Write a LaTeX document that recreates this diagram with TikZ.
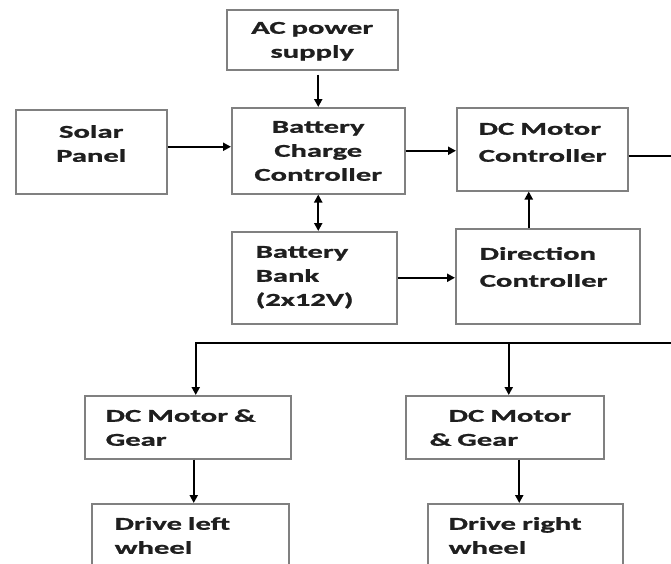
\documentclass[tikz,border=0pt]{standalone}
\usepackage{fontspec}
\newfontfamily\blkfont{Carlito}[FakeStretch=1.7,BoldFeatures={FakeStretch=1.7,FakeBold=1.2}]
\usetikzlibrary{arrows.meta}
\definecolor{boxline}{gray}{0.5}
\definecolor{inkcol}{gray}{0.12}
\tikzset{
  blk/.style={draw=boxline,line width=1.5pt,rectangle,anchor=north west,inner ysep=0pt,
    font=\blkfont\bfseries\fontsize{18}{24}\selectfont,text=inkcol,
    execute at begin node={\hyphenpenalty=10000\relax}},
  blkl/.style={blk,align=left},
  blkc/.style={blk,align=center},
  flow/.style={line width=2.2pt,-{Triangle[length=8pt,width=8pt]}},
  both/.style={line width=2.2pt,{Triangle[length=8pt,width=8pt]}-{Triangle[length=8pt,width=8pt]}},
  link/.style={line width=2.2pt},
}

\begin{document}
\begin{tikzpicture}[x=1pt,y=-1pt]
  \useasboundingbox (0,0) rectangle (671,563);
  \clip (0,0) rectangle (671,563);
  \fill[white] (0,0) rectangle (671,563);
  \node[blkc,inner xsep=8pt,text width=155pt,text height=24pt,text depth=36pt] (ac) at (226,9) {AC power\\supply};
  \node[blkc,inner xsep=8pt,text width=135pt,text height=28pt,text depth=56pt] (solar) at (15,109) {Solar\\Panel};
  \node[blkc,inner xsep=8pt,text width=157pt,text height=25pt,text depth=61pt] (bcc) at (231,107) {Battery\\Charge\\Controller};
  \node[blkl,inner xsep=22pt,text width=127pt,text height=27pt,text depth=56pt] (dcmc) at (456,107) {DC Motor\\[3pt]Controller};
  \node[blkl,inner xsep=24pt,text width=117pt,text height=26pt,text depth=66pt] (bank) at (231,231) {Battery\\Bank\\(2x12V)};
  \node[blkl,inner xsep=24pt,text width=136pt,text height=31pt,text depth=64pt] (dir) at (455,228) {Direction\\[3pt]Controller};
  \node[blkl,inner xsep=21pt,text width=164pt,text height=26pt,text depth=37pt] (lgear) at (84,395) {DC Motor \&\\Gear};
  \node[blkl,inner xsep=24pt,text width=150pt,text height=26pt,text depth=37pt] (rgear) at (405,395) {\hspace*{19pt}DC Motor\\\& Gear};
  \node[blkl,inner xsep=23pt,text width=151pt,text height=26pt,text depth=51pt] (lwheel) at (91,503) {Drive left\\wheel};
  \node[blkl,inner xsep=21pt,text width=153pt,text height=26pt,text depth=51pt] (rwheel) at (427,503) {Drive right\\wheel};
  \coordinate (turn) at (700,343);
  \draw[flow,shorten <=4pt] (bcc.north |- ac.south) -- (bcc.north);
  \draw[flow] ([yshift=5pt]solar.east) -- ([yshift=5pt]solar.east -| bcc.west);
  \draw[flow] (bcc.east) -- (bcc.east -| dcmc.west);
  \draw[both] (bcc.south) -- (bcc.south |- bank.north);
  \draw[flow] (bank.east) -- (bank.east -| dir.west);
  \draw[flow] ([xshift=-19pt]dir.north) -- ([xshift=-19pt]dir.north |- dcmc.south);
  \draw[link] ([yshift=-7pt]dcmc.east) -| (turn);
  \draw[flow] (turn) -| ([xshift=8pt]lgear.north);
  \draw[flow] ([xshift=4pt]rgear.north |- turn) -- ([xshift=4pt]rgear.north);
  \draw[flow] ([xshift=6pt]lgear.south) -- ([xshift=6pt]lgear.south |- lwheel.north);
  \draw[flow] ([xshift=-6pt]rwheel.north |- rgear.south) -- ([xshift=-6pt]rwheel.north);
\end{tikzpicture}
\end{document}
